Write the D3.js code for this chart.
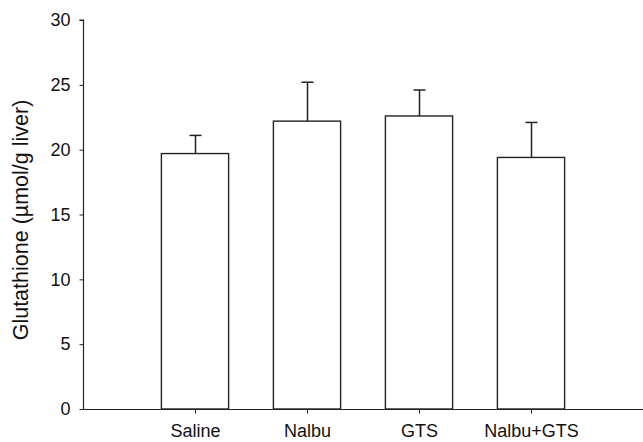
<!DOCTYPE html>
<html><head><meta charset="utf-8">
<script src="https://cdn.jsdelivr.net/npm/d3@7"></script>
<style>body{margin:0;background:#fff}svg{display:block}</style>
</head><body><svg id="c" width="643" height="442"></svg>
<script>
const categories = ["Saline", "Nalbu", "GTS", "Nalbu+GTS"];
const means = [19.7, 22.2, 22.6, 19.4];
const errors = [1.4, 3.0, 2.0, 2.7];
const yTicks = [0, 5, 10, 15, 20, 25, 30];

const svg = d3.select("#c");
const font = "'Liberation Sans', Arial, sans-serif";
const ink = "#222";
const x = d3.scaleLinear().domain([0, categories.length + 1]).range([83, 643]);
const y = d3.scaleLinear().domain([0, 30]).range([409, 20]);
const step = x(1) - x(0);
const bw = step * 0.6;

// bars
svg.selectAll("rect.bar").data(means).join("rect")
  .attr("x", (d, i) => x(i + 1) - bw / 2)
  .attr("y", d => y(d))
  .attr("width", bw)
  .attr("height", d => y(0) - y(d))
  .attr("fill", "#fff").attr("stroke", ink).attr("stroke-width", 1.4);

// error bars (upper)
const eb = svg.append("g").attr("stroke", ink).attr("stroke-width", 1.5);
means.forEach((m, i) => {
  const cx = Math.round(x(i + 1)) + 0.5;
  eb.append("line").attr("x1", cx).attr("x2", cx).attr("y1", y(m)).attr("y2", y(m + errors[i]));
  eb.append("line").attr("x1", cx - 6).attr("x2", cx + 6).attr("y1", y(m + errors[i])).attr("y2", y(m + errors[i]));
});

// y axis
const ya = svg.append("g").attr("transform", "translate(83.5,0)")
  .call(d3.axisLeft(y).tickValues(yTicks).tickSize(4).tickPadding(9).tickFormat(d3.format("d")));
ya.select(".domain").attr("stroke", ink).attr("stroke-width", 1.2).attr("d", `M-4,${y(30)}H0V${y(0)}`);
ya.selectAll(".tick line").attr("stroke", ink);
ya.selectAll("text").attr("font-family", font).attr("font-size", 18).attr("fill", "#111");

// x axis
const xa = svg.append("g").attr("transform", `translate(0,${y(0) + 0.5})`)
  .call(d3.axisBottom(x).tickValues(d3.range(1, categories.length + 1)).tickSize(4).tickPadding(11)
    .tickFormat(d => categories[d - 1]));
xa.select(".domain").attr("stroke", ink).attr("stroke-width", 1.2).attr("d", `M${x(0)},0H${x(categories.length + 1)}`);
xa.selectAll(".tick line").attr("stroke", ink);
xa.selectAll("text").attr("font-family", font).attr("font-size", 18).attr("fill", "#111");

// y title
svg.append("text")
  .attr("transform", `translate(28,220) rotate(-90)`)
  .attr("text-anchor", "middle")
  .attr("font-family", font).attr("font-size", 21.5).attr("fill", "#111")
  .text("Glutathione (µmol/g liver)");
</script></body></html>
